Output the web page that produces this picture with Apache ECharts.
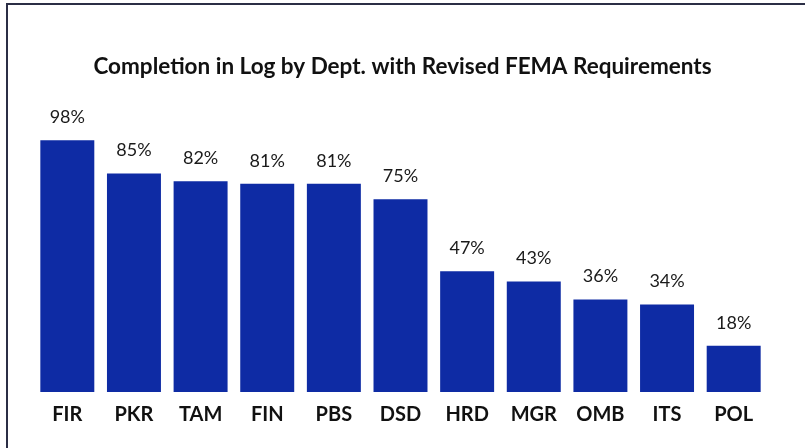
<!DOCTYPE html>
<html>
<head>
<meta charset="utf-8">
<style>
  html, body { margin: 0; padding: 0; background: #fff; }
  #main { width: 805px; height: 448px; }
</style>
<script src="https://cdn.jsdelivr.net/npm/echarts@6/dist/echarts.min.js"></script>
</head>
<body>
<div id="main"></div>
<script>
var depts = ['FIR', 'PKR', 'TAM', 'FIN', 'PBS', 'DSD', 'HRD', 'MGR', 'OMB', 'ITS', 'POL'];
var completion = [98, 85, 82, 81, 81, 75, 47, 43, 36, 34, 18];

var myChart = echarts.init(document.getElementById('main'));

var option = {
  backgroundColor: '#fff',
  animation: false,
  title: {
    text: 'Completion in Log by Dept. with Revised FEMA Requirements',
    left: 'center',
    top: 50,
    textStyle: {
      fontFamily: 'Lato',
      fontWeight: 'bold',
      fontSize: 22.5,
      color: '#111'
    }
  },
  // frame around the chart (runs off the right and bottom edge)
  graphic: [{
    type: 'rect',
    shape: { x: 7, y: 4, width: 820, height: 460 },
    style: { fill: 'none', stroke: '#2b2e45', lineWidth: 2 }
  }],
  grid: {
    left: 34,
    width: 733,
    top: 135,
    bottom: 56
  },
  xAxis: {
    type: 'category',
    data: depts,
    axisLine: { show: false },
    axisTick: { show: false },
    axisLabel: {
      margin: 13,
      fontFamily: 'Lato',
      fontWeight: 'bold',
      fontSize: 20,
      color: '#111'
    }
  },
  yAxis: {
    type: 'value',
    min: 0,
    max: 100,
    show: false,
    splitLine: { show: false }
  },
  series: [{
    type: 'bar',
    data: completion,
    barCategoryGap: '19%',
    itemStyle: { color: '#0e2ba4' },
    label: {
      show: true,
      position: 'top',
      distance: 14,
      formatter: '{c}%',
      fontFamily: 'Lato',
      fontSize: 18,
      color: '#1a1a1a'
    }
  }]
};

myChart.setOption(option);
</script>
</body>
</html>
